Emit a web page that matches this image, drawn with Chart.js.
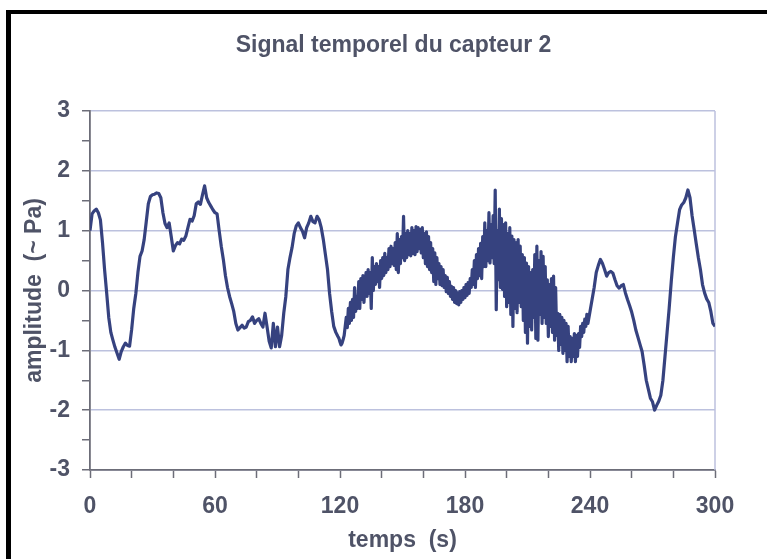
<!DOCTYPE html>
<html>
<head>
<meta charset="utf-8">
<script src="https://cdn.jsdelivr.net/npm/chart.js@4.4.1/dist/chart.umd.min.js"></script>
<style>
  html, body { margin: 0; padding: 0; background: #ffffff; }
  #wrap { position: relative; width: 767px; height: 559px; overflow: hidden; background: #ffffff; }
  #frameTop { position: absolute; left: 6px; top: 10px; width: 761px; height: 4px; background: #000; }
  #frameLeft { position: absolute; left: 6px; top: 10px; width: 5px; height: 549px; background: #000; }
  canvas { position: absolute; left: 0; top: 0; }
</style>
</head>
<body>
<div id="wrap">
  <canvas id="c" width="767" height="559"></canvas>
  <div id="frameTop"></div>
  <div id="frameLeft"></div>
</div>
<script>
// ---- Data ----
const chartTitle = 'Signal temporel du capteur 2';
const xAxisTitle = 'temps  (s)';
const yAxisTitle = 'amplitude  (~ Pa)';
const xLabelTicks = [0, 60, 120, 180, 240, 300];
const yLabelTicks = [-3, -2, -1, 0, 1, 2, 3];

// segment 1: t = 0 .. 119 s, every 1 s
const seg1Start = 0, seg1Step = 1;
const ampSeg1 = [
  1.00, 1.28, 1.33, 1.36, 1.30, 1.18, 0.80, 0.35, -0.04, -0.45,
  -0.70, -0.83, -0.95, -1.05, -1.15, -1.02, -0.94, -0.88, -0.92, -0.93,
  -0.65, -0.30, -0.05, 0.30, 0.57, 0.66, 0.85, 1.15, 1.45, 1.57,
  1.60, 1.61, 1.63, 1.62, 1.55, 1.30, 1.12, 1.05, 1.13, 0.90,
  0.66, 0.75, 0.80, 0.78, 0.86, 0.84, 0.91, 1.05, 1.19, 1.16,
  1.25, 1.45, 1.48, 1.44, 1.60, 1.75, 1.55, 1.47, 1.41, 1.35,
  1.30, 1.28, 1.00, 0.74, 0.52, 0.25, 0.05, -0.10, -0.22, -0.35,
  -0.55, -0.66, -0.62, -0.58, -0.63, -0.61, -0.52, -0.50, -0.44, -0.55,
  -0.50, -0.47, -0.55, -0.61, -0.38, -0.61, -0.85, -0.96, -0.55, -0.94,
  -0.61, -0.94, -0.75, -0.38, -0.10, 0.35, 0.55, 0.72, 0.95, 1.08,
  1.13, 1.05, 0.99, 0.88, 1.05, 1.13, 1.24, 1.15, 1.13, 1.24,
  1.18, 1.05, 0.85, 0.60, 0.35, -0.05, -0.35, -0.60, -0.70, -0.77
];

// segment 2: t = 119.5 .. 239 s, every 0.5 s (noisy part)
const seg2Start = 119.5, seg2Step = 0.5;
const ampSeg2 = [
  -0.80, -0.86, -0.91, -0.88, -0.82, -0.75, -0.60, -0.45, -0.62, -0.30,
  -0.55, -0.20, -0.50, -0.15, -0.45, 0.05, -0.35, -0.10, -0.30, 0.15,
  -0.30, 0.20, -0.15, 0.25, -0.20, 0.10, 0.30, -0.10, 0.35, -0.05,
  0.30, -0.30, 0.55, 0.00, 0.40, 0.10, 0.45, 0.15, 0.40, 0.05,
  0.50, 0.20, 0.55, 0.25, 0.62, 0.30, 0.55, 0.35, 0.70, 0.40,
  0.74, 0.45, 0.70, 0.42, 0.80, 0.35, 0.95, 0.30, 0.85, 0.45,
  0.90, 0.55, 1.24, 0.50, 0.95, 0.55, 1.00, 0.60, 0.95, 0.58,
  1.05, 0.62, 1.00, 0.60, 1.07, 0.65, 1.05, 0.70, 1.02, 0.63,
  1.05, 0.55, 0.95, 0.45, 0.98, 0.40, 0.90, 0.35, 0.80, 0.30,
  0.70, 0.15, 0.63, 0.10, 0.55, 0.20, 0.45, 0.10, 0.40, 0.08,
  0.35, 0.05, 0.25, -0.02, 0.22, -0.05, 0.15, -0.10, 0.07, -0.15,
  0.05, -0.20, 0.00, -0.22, -0.04, -0.24, -0.02, -0.20, 0.00, -0.15,
  0.05, -0.12, 0.10, -0.08, 0.13, -0.05, 0.20, 0.05, 0.35, 0.10,
  0.50, 0.05, 0.60, 0.20, 0.70, 0.25, 0.79, 0.20, 0.90, 0.40,
  1.13, 0.40, 1.00, 0.50, 1.30, 0.46, 1.10, 0.55, 1.25, 0.45,
  1.68, -0.32, 1.00, 0.18, 1.36, 0.05, 1.20, 0.02, 1.10, -0.10,
  1.13, -0.27, 0.95, -0.20, 1.05, -0.40, 0.91, -0.60, 0.85, -0.30,
  0.80, -0.37, 0.85, -0.20, 0.74, -0.27, 0.60, -0.50, 0.55, -0.70,
  0.46, -0.88, 0.40, -0.60, 0.30, -0.66, 0.35, -0.45, 0.60, -0.80,
  0.74, -0.83, 0.50, -0.40, 0.65, -0.55, 0.57, -0.45, 0.40, -0.55,
  0.18, -0.77, 0.10, -0.60, 0.20, -0.70, 0.24, -0.83, 0.05, -0.75,
  -0.38, -1.00, -0.40, -0.90, -0.45, -1.05, -0.50, -1.00, -0.55, -1.19,
  -0.60, -1.10, -0.77, -1.19, -0.80, -1.10, -0.72, -1.19, -0.75, -1.10,
  -0.72, -0.95, -0.60, -0.77, -0.55, -0.70, -0.48, -0.60, -0.40, -0.55
];

// segment 3: t = 240 .. 300 s, every 1 s
const seg3Start = 240, seg3Step = 1;
const ampSeg3 = [
  -0.35, -0.15, 0.05, 0.30, 0.42, 0.52, 0.45, 0.35, 0.24, 0.30,
  0.32, 0.29, 0.18, 0.08, 0.04, 0.08, 0.10, -0.04, -0.15, -0.25,
  -0.36, -0.50, -0.66, -0.78, -0.90, -1.02, -1.25, -1.50, -1.65, -1.80,
  -1.86, -2.00, -1.92, -1.85, -1.75, -1.50, -1.10, -0.70, -0.30, 0.15,
  0.55, 0.90, 1.13, 1.35, 1.43, 1.47, 1.55, 1.68, 1.55, 1.25,
  1.02, 0.78, 0.55, 0.35, 0.10, -0.04, -0.14, -0.20, -0.35, -0.55,
  -0.60
];

// ---- Build dataset from the arrays ----
const segments = [
  [seg1Start, seg1Step, ampSeg1],
  [seg2Start, seg2Step, ampSeg2],
  [seg3Start, seg3Step, ampSeg3]
];
const points = [];
segments.forEach(([t0, dt, arr]) => {
  arr.forEach((v, i) => points.push({ x: t0 + i * dt, y: v }));
});

// ---- Styles ----
const FONT = "'Liberation Sans', Arial, Helvetica, sans-serif";
const FS = 23;
const textColor = '#4f5367';
const lineColor = '#36427f';
const gridColor = '#bcc1de';
const axisColor = '#6c6d78';

const plotFrame = {
  id: 'plotFrame',
  afterLayout(chart) {
    // centre the title over the plot area rather than the full canvas
    const tb = chart.titleBlock;
    if (tb) {
      const a = chart.chartArea;
      const half = (tb.right - tb.left) / 2;
      const cx = (a.left + a.right) / 2 - 9;
      tb.left = cx - half;
      tb.right = cx + half;
    }
  },
  beforeDatasetsDraw(chart) {
    const { ctx, chartArea: a } = chart;
    ctx.save();
    ctx.strokeStyle = gridColor;
    ctx.lineWidth = 1.5;
    ctx.beginPath();
    ctx.moveTo(a.right, a.top);
    ctx.lineTo(a.right, a.bottom);
    ctx.stroke();
    ctx.restore();
  }
};

new Chart(document.getElementById('c'), {
  type: 'line',
  data: {
    datasets: [{
      data: points,
      borderColor: lineColor,
      borderWidth: 3.2,
      borderJoinStyle: 'round',
      pointRadius: 0,
      tension: 0,
      fill: false
    }]
  },
  plugins: [plotFrame],
  options: {
    responsive: false,
    animation: false,
    events: [],
    layout: { padding: { left: 12, right: 52, top: 14, bottom: 0 } },
    plugins: {
      legend: { display: false },
      tooltip: { enabled: false },
      title: {
        display: true,
        text: chartTitle,
        color: textColor,
        font: { family: FONT, size: FS, weight: 'bold' },
        padding: { top: 18, bottom: 51.4 }
      }
    },
    scales: {
      x: {
        type: 'linear',
        min: 0,
        max: 300,
        afterFit: s => { s.height = 89; },
        afterBuildTicks: s => {
          const t = [];
          for (let v = 0; v <= 300; v += 20) t.push({ value: v });
          s.ticks = t;
        },
        ticks: {
          autoSkip: false,
          maxRotation: 0,
          color: textColor,
          font: { family: FONT, size: FS, weight: 'bold' },
          padding: 15,
          callback: v => xLabelTicks.includes(v) ? String(v) : ''
        },
        grid: {
          drawOnChartArea: false,
          drawTicks: true,
          tickLength: 8,
          tickColor: axisColor,
          tickWidth: 1.5
        },
        border: { color: axisColor, width: 1.8 },
        title: {
          display: true,
          text: xAxisTitle,
          color: textColor,
          font: { family: FONT, size: FS, weight: 'bold' },
          padding: { top: 0, bottom: 5 }
        }
      },
      y: {
        min: -3,
        max: 3,
        afterFit: s => { s.width = 78; },
        afterBuildTicks: s => {
          const t = [];
          for (let k = -6; k <= 6; k++) t.push({ value: k / 2 });
          s.ticks = t;
        },
        ticks: {
          autoSkip: false,
          color: textColor,
          font: { family: FONT, size: FS, weight: 'bold' },
          padding: 12,
          callback: v => yLabelTicks.includes(v) ? String(v) : ''
        },
        grid: {
          color: c => (c.tick && Number.isInteger(c.tick.value)) ? gridColor : 'rgba(0,0,0,0)',
          lineWidth: 1.5,
          tickLength: 8,
          tickColor: axisColor,
          tickWidth: 1.5
        },
        border: { color: axisColor, width: 1.8 },
        title: {
          display: true,
          text: yAxisTitle,
          color: textColor,
          font: { family: FONT, size: FS, weight: 'bold' },
          padding: { top: 9, bottom: 0 }
        }
      }
    }
  }
});
</script>
</body>
</html>
